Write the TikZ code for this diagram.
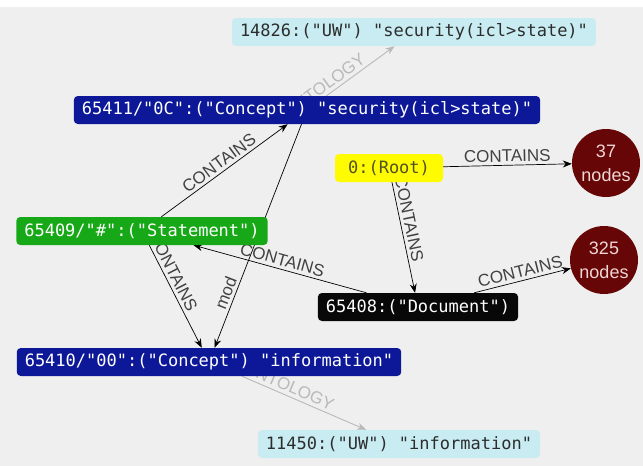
\documentclass[tikz,border=0pt]{standalone}
\usepackage{fontspec}
\setsansfont{Liberation Sans}
\setmonofont{DejaVu Sans Mono}
\usetikzlibrary{arrows.meta}

\definecolor{bgcol}{RGB}{239,239,239}
\definecolor{uwcol}{RGB}{200,236,241}
\definecolor{uwtext}{RGB}{45,45,45}
\definecolor{conceptcol}{RGB}{12,24,152}
\definecolor{rootcol}{RGB}{255,252,0}
\definecolor{roottext}{RGB}{80,80,40}
\definecolor{stmtcol}{RGB}{22,168,22}
\definecolor{doccol}{RGB}{8,8,8}
\definecolor{countcol}{RGB}{102,6,6}
\definecolor{counttext}{RGB}{240,214,214}
\definecolor{lblcol}{RGB}{65,65,65}
\definecolor{ontocol}{RGB}{185,185,185}

\pgfdeclarelayer{bg}
\pgfdeclarelayer{edges}
\pgfsetlayers{bg,edges,main}

\tikzset{
  box/.style={rectangle, rounded corners=4pt, inner xsep=8pt, inner ysep=0pt,
    minimum height=28pt, font=\ttfamily\fontsize{17}{17}\selectfont},
  uw/.style={box, fill=uwcol, text=uwtext},
  concept/.style={box, fill=conceptcol, text=white},
  count/.style={circle, fill=countcol, text=counttext, minimum size=68pt,
    inner sep=0pt, align=center, font=\sffamily\fontsize{18}{24}\selectfont},
  rel/.style={draw=black, line width=0.7pt, -{Stealth[length=9pt,width=7pt]}},
  onto/.style={draw=ontocol, line width=0.9pt, -{Stealth[length=9pt,width=7pt]}},
  lbl/.style={sloped, above, inner sep=3pt, text=lblcol,
    font=\sffamily\fontsize{17}{17}\selectfont},
  ontolbl/.style={lbl, text=ontocol},
}

\begin{document}
\begin{tikzpicture}[x=1pt, y=-1pt]
  \begin{pgfonlayer}{bg}
    \fill[bgcol] (0,0) rectangle (643,466);
    \fill[white] (0,0) rectangle (643,7);
  \end{pgfonlayer}
  \useasboundingbox (0,0) rectangle (643,466);

  \node[uw] (uwsec) at (414,32) {14826:("UW") "security(icl>state)"};
  \node[concept] (consec) at (307,110) {65411/"0C":("Concept") "security(icl>state)"};
  \node[box, fill=rootcol, text=roottext, minimum width=108pt] (root) at (389,168) {0:(Root)};
  \node[count] (cnt37) at (606,163) {37\\nodes};
  \node[box, fill=stmtcol, text=white] (stmt) at (142,231) {65409/"\#":("Statement")};
  \node[count] (cnt325) at (604,260) {325\\nodes};
  \node[box, fill=doccol, text=white] (doc) at (418,307) {65408:("Document")};
  \node[concept] (coninf) at (209,362) {65410/"00":("Concept") "information"};
  \node[uw] (uwinf) at (399,444) {11450:("UW") "information"};

  \begin{pgfonlayer}{edges}
    \draw[onto] (consec) -- node[ontolbl, pos=0.05] {ONTOLOGY} (uwsec);
    \draw[rel] (stmt) -- node[lbl] {CONTAINS} (consec);
    \draw[rel] (consec) -- node[lbl, pos=0.77] {mod} (coninf);
    \draw[rel] (stmt) -- node[lbl, pos=0.3] {CONTAINS} (coninf);
    \draw[rel] (doc) -- node[lbl] {CONTAINS} (stmt);
    \draw[rel] (root) -- node[lbl, pos=0.35] {CONTAINS} (doc);
    \draw[rel] (root) -- node[lbl] {CONTAINS} (cnt37);
    \draw[rel] (doc) -- node[lbl] {CONTAINS} (cnt325);
    \draw[onto] (coninf) -- node[ontolbl, pos=0.35] {ONTOLOGY} (uwinf);
  \end{pgfonlayer}
\end{tikzpicture}
\end{document}
